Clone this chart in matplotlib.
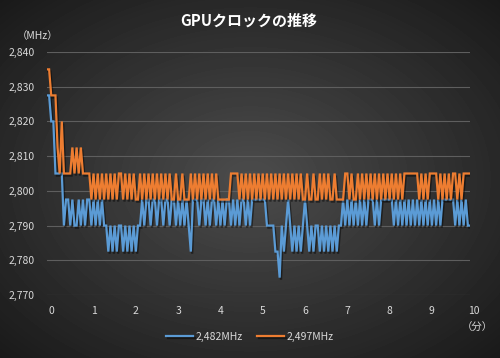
import numpy as np
import matplotlib
matplotlib.use('Agg')
import matplotlib.pyplot as plt
import matplotlib.patheffects as pe

plt.rcParams['font.family'] = ['Noto Sans CJK JP', 'DejaVu Sans']

title = 'GPUクロックの推移'
y_unit = '（MHz）'
x_unit = '（分）'
series_names = ['2,482MHz', '2,497MHz']
series_colors = ['#5B9BD5', '#ED7D31']
y_ticks = [2770, 2780, 2790, 2800, 2810, 2820, 2830, 2840]
y_tick_labels = ['2,770', '2,780', '2,790', '2,800', '2,810', '2,820', '2,830', '2,840']
x_ticks = [0, 1, 2, 3, 4, 5, 6, 7, 8, 9, 10]
step_minutes = 0.05

clock_2482 = [
    2827.5, 2827.5, 2820, 2820, 2805, 2805, 2805, 2805, 2790, 2797.5,
    2797.5, 2790, 2797.5, 2790, 2790, 2797.5, 2790, 2797.5, 2790, 2797.5,
    2797.5, 2790, 2797.5, 2790, 2797.5, 2790, 2797.5, 2790, 2790, 2782.5,
    2790, 2782.5, 2790, 2782.5, 2790, 2790, 2782.5, 2790, 2782.5, 2790,
    2782.5, 2790, 2782.5, 2790, 2790, 2797.5, 2790, 2797.5, 2797.5, 2790,
    2797.5, 2797.5, 2790, 2797.5, 2797.5, 2790, 2797.5, 2797.5, 2790, 2797.5,
    2797.5, 2790, 2797.5, 2790, 2797.5, 2790, 2797.5, 2790, 2782.5, 2797.5,
    2797.5, 2797.5, 2790, 2797.5, 2797.5, 2790, 2797.5, 2790, 2797.5, 2797.5,
    2790, 2797.5, 2790, 2797.5, 2790, 2797.5, 2797.5, 2790, 2797.5, 2790,
    2797.5, 2790, 2797.5, 2797.5, 2790, 2797.5, 2790, 2797.5, 2797.5, 2797.5,
    2797.5, 2797.5, 2797.5, 2797.5, 2790, 2790, 2790, 2790, 2782.5, 2782.5,
    2775, 2790, 2782.5, 2790, 2797.5, 2790, 2782.5, 2790, 2782.5, 2790,
    2782.5, 2790, 2797.5, 2790, 2782.5, 2790, 2782.5, 2790, 2790, 2782.5,
    2790, 2782.5, 2790, 2782.5, 2790, 2782.5, 2790, 2782.5, 2790, 2790,
    2797.5, 2790, 2797.5, 2790, 2797.5, 2790, 2797.5, 2790, 2797.5, 2790,
    2797.5, 2790, 2797.5, 2797.5, 2797.5, 2790, 2797.5, 2790, 2797.5, 2797.5,
    2797.5, 2797.5, 2797.5, 2797.5, 2790, 2797.5, 2790, 2797.5, 2790, 2797.5,
    2790, 2797.5, 2790, 2797.5, 2790, 2797.5, 2790, 2797.5, 2790, 2797.5,
    2790, 2797.5, 2790, 2797.5, 2790, 2797.5, 2790, 2797.5, 2797.5, 2797.5,
    2797.5, 2797.5, 2797.5, 2790, 2797.5, 2790, 2797.5, 2790, 2797.5, 2790,
    2790,
]

clock_2497 = [
    2835, 2835, 2827.5, 2827.5, 2827.5, 2812.5, 2805, 2820, 2805, 2805,
    2805, 2805, 2812.5, 2805, 2812.5, 2805, 2812.5, 2805, 2805, 2805,
    2805, 2797.5, 2805, 2797.5, 2805, 2797.5, 2805, 2797.5, 2805, 2797.5,
    2805, 2797.5, 2805, 2797.5, 2805, 2805, 2797.5, 2805, 2797.5, 2805,
    2797.5, 2805, 2797.5, 2797.5, 2805, 2797.5, 2805, 2797.5, 2805, 2797.5,
    2805, 2797.5, 2805, 2797.5, 2805, 2797.5, 2805, 2797.5, 2805, 2797.5,
    2797.5, 2805, 2797.5, 2797.5, 2805, 2797.5, 2797.5, 2797.5, 2805, 2797.5,
    2805, 2797.5, 2805, 2797.5, 2805, 2797.5, 2805, 2797.5, 2805, 2797.5,
    2805, 2797.5, 2797.5, 2797.5, 2797.5, 2797.5, 2797.5, 2805, 2805, 2805,
    2805, 2797.5, 2805, 2797.5, 2805, 2797.5, 2805, 2797.5, 2805, 2797.5,
    2805, 2797.5, 2805, 2797.5, 2805, 2797.5, 2805, 2797.5, 2805, 2797.5,
    2805, 2797.5, 2805, 2797.5, 2805, 2797.5, 2805, 2797.5, 2805, 2797.5,
    2805, 2797.5, 2797.5, 2805, 2797.5, 2797.5, 2805, 2797.5, 2797.5, 2805,
    2797.5, 2805, 2797.5, 2805, 2797.5, 2797.5, 2805, 2797.5, 2797.5, 2797.5,
    2797.5, 2805, 2805, 2797.5, 2805, 2797.5, 2797.5, 2805, 2797.5, 2805,
    2797.5, 2805, 2797.5, 2805, 2797.5, 2805, 2797.5, 2805, 2797.5, 2805,
    2797.5, 2805, 2797.5, 2805, 2797.5, 2805, 2797.5, 2805, 2797.5, 2805,
    2805, 2805, 2805, 2805, 2805, 2805, 2797.5, 2805, 2797.5, 2805,
    2797.5, 2805, 2805, 2805, 2805, 2797.5, 2805, 2797.5, 2805, 2797.5,
    2805, 2797.5, 2805, 2805, 2797.5, 2805, 2797.5, 2805, 2805, 2805,
    2805,
]

W, H = 500, 358
fig = plt.figure(figsize=(W / 100, H / 100), dpi=100)

# radial gradient background
bg = fig.add_axes([0, 0, 1, 1])
yy, xx = np.mgrid[0:H, 0:W]
r = np.sqrt(((xx - W * 0.5) / (W * 0.5)) ** 2 + ((yy - H * 0.5) / (H * 0.5)) ** 2) / np.sqrt(2)
shade = 0.30 - 0.20 * r
bg.imshow(shade, cmap='gray', vmin=0, vmax=1, aspect='auto', interpolation='bilinear')
bg.set_axis_off()

ax = fig.add_axes([47 / W, 1 - 295 / H, 423 / W, 243 / H])
ax.patch.set_alpha(0)
for s in ax.spines.values():
    s.set_visible(False)

shadow = [pe.SimpleLineShadow(offset=(1.0, -1.5), shadow_color='black', alpha=0.45),
          pe.Normal()]
lines = []
for vals, name, col in zip([clock_2482, clock_2497], series_names, series_colors):
    ln, = ax.plot(np.arange(len(vals)) * step_minutes, vals, color=col, lw=1.6,
                  label=name, solid_joinstyle='miter', path_effects=shadow)
    lines.append(ln)

ax.set_xlim(0, 10)
ax.set_ylim(2770, 2840)
ax.set_yticks(y_ticks)
ax.set_yticklabels(y_tick_labels)
ax.set_xticks([])
ax.grid(axis='y', color='#5e5e5e', lw=0.8)
ax.tick_params(axis='y', length=0, pad=9, labelcolor='#d9d9d9', labelsize=7.5)
ax.set_axisbelow(True)

for xv in x_ticks:
    ax.text(xv + 0.1, -0.065, str(xv), transform=ax.get_xaxis_transform(),
            ha='center', va='center', color='#d9d9d9', fontsize=7.5)

fig.text(249 / W, 1 - 21 / H, title, ha='center', va='center', color='white',
         fontsize=10.8, fontweight='bold')
fig.text(38 / W, 1 - 36 / H, y_unit, ha='center', va='center', color='#d9d9d9', fontsize=7.5)
fig.text(477 / W, 1 - 328 / H, x_unit, ha='center', va='center', color='#d9d9d9', fontsize=7.5)

fig.legend(handles=lines, loc='center', bbox_to_anchor=(0.5, 1 - 337 / H), ncol=2,
           frameon=False, fontsize=7.5, labelcolor='#d9d9d9', handlelength=2.6,
           handletextpad=0.2, columnspacing=1.4)

fig.savefig('out.png', dpi=100)
